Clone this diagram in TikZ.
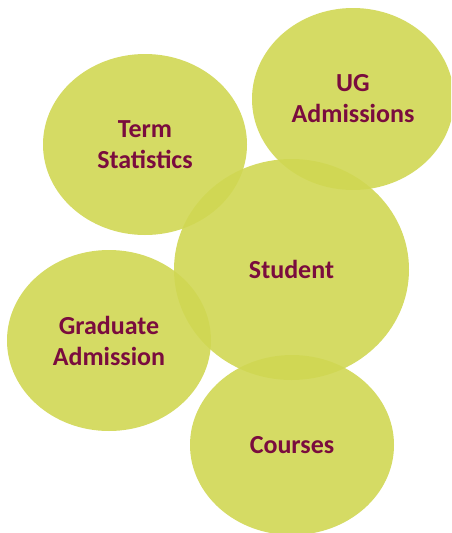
\documentclass[tikz,border=0pt]{standalone}
\usepackage{fontspec}
\setmainfont{Carlito}
\definecolor{blobfill}{RGB}{208,215,83}
\definecolor{blobtext}{RGB}{122,12,62}
\tikzset{
  blob/.style={ellipse, fill=blobfill, fill opacity=0.9, text opacity=1,
    inner sep=0pt, align=center, text=blobtext,
    font=\fontsize{26}{31}\selectfont\bfseries},
}
\usetikzlibrary{shapes.geometric}
\begin{document}
\begin{tikzpicture}[x=1pt,y=-1pt]
\useasboundingbox (0,0) rectangle (451,533);
\clip (0,0) rectangle (451,533);
\node[blob, minimum width=204pt, minimum height=181pt] (term) at (145,144.5) {Term\\Statistics};
\node[blob, minimum width=202pt, minimum height=182pt] (ug) at (353,99) {UG\\Admissions};
\node[blob, minimum width=235pt, minimum height=221pt] (student) at (291.5,269.5) {Student};
\node[blob, minimum width=204pt, minimum height=181pt] (grad) at (109,340.5) {Graduate\\Admission};
\node[blob, minimum width=204pt, minimum height=180pt] (courses) at (292,445) {Courses};
\end{tikzpicture}
\end{document}
